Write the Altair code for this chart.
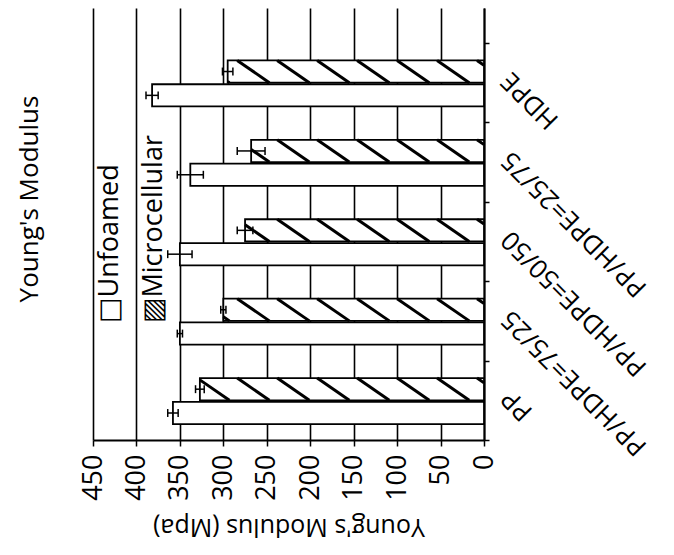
import altair as alt
import pandas as pd

# ---------------- data ----------------
categories = ["PP", "PP/HDPE=75/25", "PP/HDPE=50/50", "PP/HDPE=25/75", "HDPE"]
unfoamed = [358, 350, 350, 338, 382]
unfoamed_err = [6, 3, 14, 15, 7]
microcellular = [327, 300, 275, 268, 295]
microcellular_err = [5, 3, 9, 16, 6]
x_ticks = [0, 50, 100, 150, 200, 250, 300, 350, 400, 450]
legend_labels = ["\u25a1Unfoamed", "\u25a8Microcellular"]
chart_title = "Young's Modulus"
x_title = "Young's Modulus (Mpa)"

# ---------------- layout / style constants ----------------
W, H = 391, 432
FONT = "Open Sans"
SLOTS = {"Unfoamed": (0.2, 0.48), "Microcellular": (0.5, 0.78)}
CAP = 0.05
LABEL_SHIFT = 0.08
HATCH_STEP, HATCH_RUN, HATCH_START = 46, 37, 8

xs = alt.Scale(domain=[0, 450], reverse=True, nice=False, zero=True)
ys = alt.Scale(domain=[0, 5.44], nice=False, zero=True)

rows = []
for i, c in enumerate(categories):
    for s, vals, errs in (("Unfoamed", unfoamed, unfoamed_err),
                          ("Microcellular", microcellular, microcellular_err)):
        lo, hi = SLOTS[s]
        yc = i + (lo + hi) / 2
        rows.append(dict(category=c, series=s, value=vals[i], err=errs[i],
                         y0=i + lo, y1=i + hi, yc=yc,
                         elo=vals[i] - errs[i], ehi=vals[i] + errs[i],
                         c0=yc - CAP, c1=yc + CAP))
bars = pd.DataFrame(rows)

# hatch stripes for the microcellular bars, clipped to each bar
hatch = []
for i, v in enumerate(microcellular):
    lo, hi = SLOTS["Microcellular"]
    ytop, ybot = i + hi, i + lo
    t = HATCH_START
    while t - HATCH_RUN < v:
        xa, ya = t, ytop
        xb, yb = t - HATCH_RUN, ybot
        if xa > v:
            f = (xa - v) / HATCH_RUN
            xa, ya = v, ytop - f * (ytop - ybot)
        if xb < 0:
            f = t / HATCH_RUN
            xb, yb = 0, ytop - f * (ytop - ybot)
        if xa > xb:
            hatch.append(dict(xa=xa, ya=ya, xb=xb, yb=yb))
        t += HATCH_STEP
hatch = pd.DataFrame(hatch)

labels_df = pd.DataFrame({"category": categories,
                          "ymid": [i + 0.5 + LABEL_SHIFT for i in range(len(categories))]})

x_axis = alt.Axis(values=x_ticks, labelAngle=270, grid=True, gridColor="black",
                  gridWidth=1.6, domainColor="black", domainWidth=2,
                  tickColor="black", tickSize=6, tickWidth=1.5,
                  labelFont=FONT, labelFontSize=27, labelColor="black",
                  labelPadding=8, labelFlush=False, labelOverlap=False,
                  title=x_title, titleAngle=180, titleFont=FONT,
                  titleFontSize=25, titleFontWeight="normal", titleColor="black",
                  titleX=W / 2, titleY=86, titleAlign="center",
                  titleBaseline="middle")
y_axis = alt.Axis(orient="right", values=[0, 1, 2, 3, 4, 5], labels=False,
                  grid=False, title=None, domainColor="black", domainWidth=2,
                  tickColor="black", tickSize=5, tickWidth=1.5)

base = alt.Chart(bars)

bar_layer = base.mark_bar(fill="white", stroke="black", strokeWidth=1.8).encode(
    x=alt.X("value:Q", scale=xs, axis=x_axis),
    x2=alt.datum(0),
    y=alt.Y("y0:Q", scale=ys, axis=y_axis),
    y2="y1:Q",
)

hatch_layer = alt.Chart(hatch).mark_rule(color="black", strokeWidth=3).encode(
    x=alt.X("xa:Q", scale=xs), x2="xb:Q",
    y=alt.Y("ya:Q", scale=ys), y2="yb:Q",
)

err_line = base.mark_rule(color="black", strokeWidth=1.5).encode(
    x=alt.X("elo:Q", scale=xs), x2="ehi:Q", y=alt.Y("yc:Q", scale=ys))
cap_lo = base.mark_rule(color="black", strokeWidth=1.5).encode(
    x=alt.X("elo:Q", scale=xs), y=alt.Y("c0:Q", scale=ys), y2="c1:Q")
cap_hi = base.mark_rule(color="black", strokeWidth=1.5).encode(
    x=alt.X("ehi:Q", scale=xs), y=alt.Y("c0:Q", scale=ys), y2="c1:Q")

cat_labels = alt.Chart(labels_df).mark_text(
    angle=225, align="right", baseline="middle", font=FONT, fontSize=26,
    color="black").encode(
    x=alt.value(W + 22), y=alt.Y("ymid:Q", scale=ys), text="category:N")

legend_df = pd.DataFrame({"label": legend_labels, "px": [25, 69]})
legend = alt.Chart(legend_df).mark_text(
    angle=270, align="left", baseline="alphabetic",
    font=FONT + ", DejaVu Sans", fontSize=27, color="black").encode(
    x=alt.X("px:Q", scale=None), y=alt.value(315), text="label:N")

title_df = pd.DataFrame({"t": [chart_title]})
title = alt.Chart(title_df).mark_text(
    angle=270, align="center", baseline="alphabetic", font=FONT, fontSize=26,
    color="black").encode(x=alt.value(-55), y=alt.value(191), text="t:N")

chart = alt.layer(bar_layer, hatch_layer, err_line, cap_lo, cap_hi,
                  cat_labels, legend, title).properties(
    width=W, height=H,
    autosize=alt.AutoSizeParams(type="none"),
    padding={"left": 85, "top": 0, "right": 182, "bottom": 107},
    background="white",
).configure_view(stroke=None)

chart.save("out.html", embed_options={"renderer": "svg", "actions": False})
